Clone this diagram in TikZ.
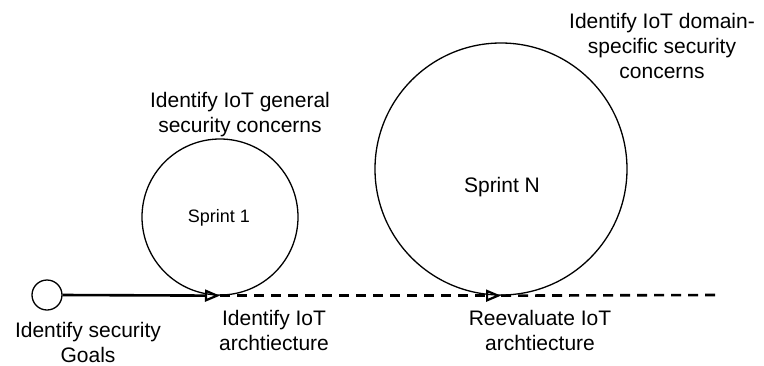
\documentclass[tikz,border=0pt]{standalone}
\usepackage{fontspec}
\setmainfont{Liberation Sans}
\usetikzlibrary{arrows.meta}

\begin{document}
\begin{tikzpicture}[x=1pt, y=-1pt,
  lbl/.style={align=center, font=\fontsize{21}{25}\selectfont, inner sep=0pt},
  sprint/.style={circle, draw, line width=1.3pt, inner sep=0pt},
  flow/.style={line width=2.6pt, -{Triangle[open, length=15pt, width=12pt, line width=2.2pt]}},
  future/.style={dash pattern=on 10pt off 7pt}]
\useasboundingbox (0,0) rectangle (764,365);
\node[sprint, minimum size=30pt] (goals) at (47,295) {};
\node[sprint, minimum size=156pt] (sprintA) at (220,217) {};
\node[sprint, minimum size=252pt] (sprintN) at (501,169) {};
\node[font=\fontsize{18}{22}\selectfont] (sprintAtxt) at (219,218) {Sprint 1};
\node[font=\fontsize{21}{25}\selectfont] (sprintNtxt) at (502,187) {Sprint N};
\coordinate (end) at (718,295);

%timeline
\draw[flow] (goals.east) -- (sprintA.south);
\draw[flow, future] (sprintA.south) -- (sprintN.south);
\draw[line width=2.6pt, future] (sprintN.south) -- (end);

%labels
\node[lbl] (goalslbl) at (88,342) {Identify security\\Goals};
\node[lbl] (archA) at (274,330) {Identify IoT\\archtiecture};
\node[lbl] (archN) at (540,330) {Reevaluate IoT\\archtiecture};
\node[lbl] (generallbl) at (240,115) {Identify IoT general\\security concerns};
\node[lbl] (domainlbl) at (662,46) {Identify IoT domain-\\specific security\\concerns};
\end{tikzpicture}
\end{document}
